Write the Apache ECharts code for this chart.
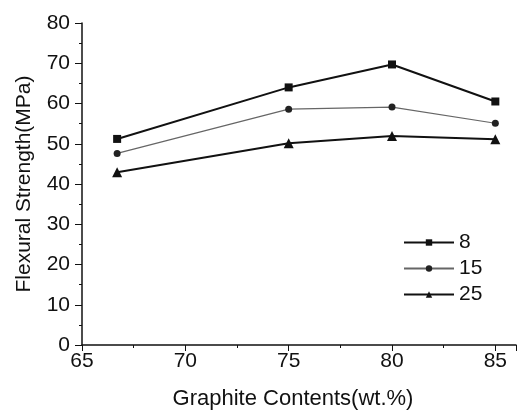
<!DOCTYPE html>
<html>
<head>
<meta charset="utf-8">
<script src="https://cdn.jsdelivr.net/npm/echarts@6/dist/echarts.min.js"></script>
<style>
  html, body { margin: 0; padding: 0; background: #fff; }
  #chart { width: 519px; height: 411px; }
</style>
</head>
<body>
<div id="chart"></div>
<script>
    // data
    var graphite = [66.7, 75, 80, 85];
    var s8 = [51.2, 64.0, 69.7, 60.5];
    var s15 = [47.6, 58.6, 59.1, 55.1];
    var s25 = [42.9, 50.1, 51.9, 51.1];
    var seriesNames = ['8', '15', '25'];

    function pairs(ys) {
        return graphite.map(function (x, i) { return [x, ys[i]]; });
    }

    var chart = echarts.init(document.getElementById('chart'));
    var font = 'Liberation Sans, Arial, sans-serif';

    var option = {
        animation: false,
        backgroundColor: '#fff',
        grid: { left: 82, right: 3, top: 23, bottom: 66, outerBoundsMode: 'none' },
        legend: {
            orient: 'vertical',
            left: 403,
            top: 232,
            padding: 0,
            itemWidth: 50,
            itemHeight: 8,
            itemGap: 5,
            textStyle: { fontFamily: font, fontSize: 21, color: '#111' },
            data: seriesNames
        },
        xAxis: {
            type: 'value',
            min: 65,
            max: 86,
            interval: 5,
            name: 'Graphite Contents(wt.%)',
            nameLocation: 'middle',
            nameGap: 43,
            nameTextStyle: { fontFamily: font, fontSize: 22, color: '#111', padding: [0, 12, 0, 0] },
            axisLine: { lineStyle: { color: '#111', width: 1.5 } },
            axisTick: { length: 6, lineStyle: { color: '#111' } },
            minorTick: { show: true, splitNumber: 2, length: 3, lineStyle: { color: '#111' } },
            axisLabel: { fontFamily: font, fontSize: 21, color: '#111', margin: 6, showMaxLabel: false },
            splitLine: { show: false }
        },
        yAxis: {
            type: 'value',
            min: 0,
            max: 80,
            interval: 10,
            name: 'Flexural Strength(MPa)',
            nameLocation: 'middle',
            nameGap: 47,
            nameTextStyle: { fontFamily: font, fontSize: 21, color: '#111' },
            axisLine: { show: true, lineStyle: { color: '#111', width: 1.5 } },
            axisTick: { show: true, length: 7, lineStyle: { color: '#111' } },
            minorTick: { show: true, splitNumber: 2, length: 3, lineStyle: { color: '#111' } },
            axisLabel: { fontFamily: font, fontSize: 21, color: '#111', margin: 12 },
            splitLine: { show: false }
        },
        series: [{
            name: seriesNames[0],
            type: 'line',
            data: pairs(s8),
            symbol: 'rect',
            symbolSize: 8,
            lineStyle: { color: '#111', width: 2 },
            itemStyle: { color: '#111' }
        }, {
            name: seriesNames[1],
            type: 'line',
            data: pairs(s15),
            symbol: 'circle',
            symbolSize: 7,
            lineStyle: { color: '#666', width: 1.2 },
            itemStyle: { color: '#222' }
        }, {
            name: seriesNames[2],
            type: 'line',
            data: pairs(s25),
            symbol: 'triangle',
            symbolSize: 10,
            lineStyle: { color: '#111', width: 2 },
            itemStyle: { color: '#111' }
        }]
    };

    chart.setOption(option);
</script>
</body>
</html>
